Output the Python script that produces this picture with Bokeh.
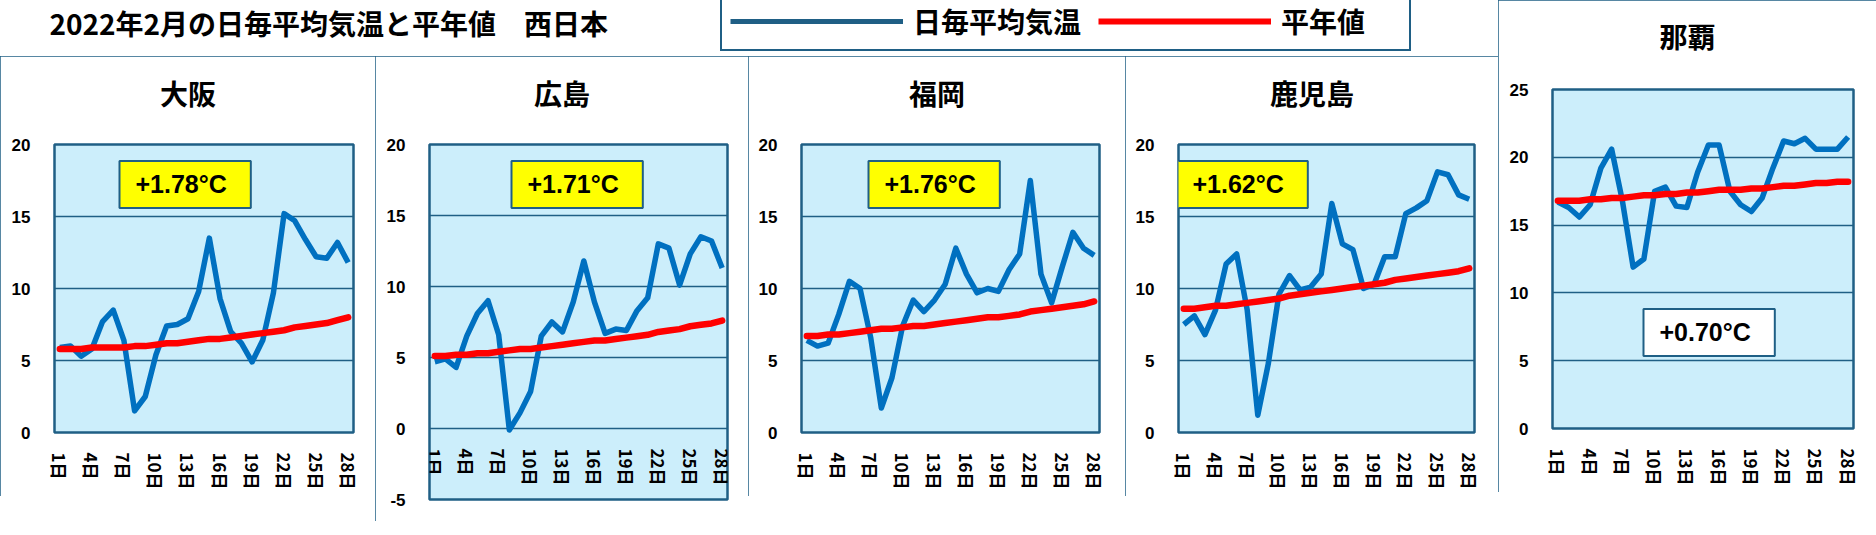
from bokeh.plotting import figure
from bokeh.layouts import row, column
from bokeh.models import FixedTicker, Label, Legend, LegendItem, Range1d, Title, ColumnDataSource
from bokeh.embed import file_html
from bokeh.resources import INLINE

# ---------------- data ----------------
days = list(range(1, 29))
tick_days = [1, 4, 7, 10, 13, 16, 19, 22, 25, 28]
tick_labels = ["1日", "4日", "7日", "10日", "13日", "16日", "19日", "22日", "25日", "28日"]

main_title = "2022年2月の日毎平均気温と平年値　西日本"
series_names = ["日毎平均気温", "平年値"]

osaka_daily = [5.9, 6.0, 5.3, 5.8, 7.7, 8.5, 6.4, 1.5, 2.5, 5.4, 7.4, 7.5, 7.9, 9.8,
               13.5, 9.3, 7.0, 6.2, 4.9, 6.4, 9.7, 15.2, 14.7, 13.4, 12.2, 12.1, 13.2, 11.8]
osaka_normal = [5.8, 5.8, 5.8, 5.9, 5.9, 5.9, 5.9, 6.0, 6.0, 6.1, 6.2, 6.2, 6.3, 6.4,
                6.5, 6.5, 6.6, 6.7, 6.8, 6.9, 7.0, 7.1, 7.3, 7.4, 7.5, 7.6, 7.8, 8.0]

hiroshima_daily = [4.7, 4.9, 4.3, 6.5, 8.1, 9.0, 6.6, -0.1, 1.1, 2.6, 6.5, 7.5, 6.8, 8.9,
                   11.8, 8.9, 6.7, 7.0, 6.9, 8.3, 9.2, 13.0, 12.7, 10.1, 12.3, 13.5, 13.2, 11.3]
hiroshima_normal = [5.1, 5.1, 5.2, 5.2, 5.3, 5.3, 5.4, 5.5, 5.6, 5.6, 5.7, 5.8, 5.9, 6.0,
                    6.1, 6.2, 6.2, 6.3, 6.4, 6.5, 6.6, 6.8, 6.9, 7.0, 7.2, 7.3, 7.4, 7.6]

fukuoka_daily = [6.4, 6.0, 6.2, 8.2, 10.5, 10.0, 6.6, 1.7, 3.8, 7.4, 9.2, 8.4, 9.2, 10.3,
                 12.8, 11.0, 9.7, 10.0, 9.8, 11.3, 12.4, 17.5, 11.0, 9.0, 11.5, 13.9, 12.8, 12.3]
fukuoka_normal = [6.7, 6.7, 6.8, 6.8, 6.9, 7.0, 7.1, 7.2, 7.2, 7.3, 7.4, 7.4, 7.5, 7.6,
                  7.7, 7.8, 7.9, 8.0, 8.0, 8.1, 8.2, 8.4, 8.5, 8.6, 8.7, 8.8, 8.9, 9.1]

kagoshima_daily = [7.5, 8.1, 6.8, 8.5, 11.7, 12.4, 8.5, 1.2, 4.8, 9.6, 10.9, 9.9, 10.1, 11.0,
                   15.9, 13.1, 12.7, 10.0, 10.3, 12.2, 12.2, 15.2, 15.6, 16.1, 18.1, 17.9, 16.5, 16.2]
kagoshima_normal = [8.6, 8.6, 8.7, 8.8, 8.8, 8.9, 9.0, 9.1, 9.2, 9.3, 9.5, 9.6, 9.7, 9.8,
                    9.9, 10.0, 10.1, 10.2, 10.3, 10.4, 10.6, 10.7, 10.8, 10.9, 11.0, 11.1, 11.2, 11.4]

naha_daily = [16.7, 16.3, 15.6, 16.5, 19.2, 20.6, 16.8, 11.9, 12.5, 17.5, 17.8, 16.4, 16.3, 18.9,
              20.9, 20.9, 17.5, 16.5, 16.0, 17.0, 19.2, 21.2, 21.0, 21.4, 20.6, 20.6, 20.6, 21.5]
naha_normal = [16.8, 16.8, 16.8, 16.9, 16.9, 17.0, 17.0, 17.1, 17.2, 17.2, 17.3, 17.3, 17.4, 17.4,
               17.5, 17.6, 17.6, 17.6, 17.7, 17.7, 17.8, 17.9, 17.9, 18.0, 18.1, 18.1, 18.2, 18.2]

city_names = ["大阪", "広島", "福岡", "鹿児島", "那覇"]
anomaly_texts = ["+1.78°C", "+1.71°C", "+1.76°C", "+1.62°C", "+0.70°C"]

y_ticks_std = [0, 5, 10, 15, 20]
y_labels_std = ["0", "5", "10", "15", "20"]
y_ticks_hiro = [-5, 0, 5, 10, 15, 20]
y_labels_hiro = ["-5", "0", "5", "10", "15", "20"]
y_ticks_naha = [0, 5, 10, 15, 20, 25]
y_labels_naha = ["0", "5", "10", "15", "20", "25"]

# ---------------- style ----------------
DARK = "#1F5F85"
BG = "#CCEEFB"
BLUE = "#0070C0"
RED = "#FF0000"
JP = "Noto Sans CJK JP"
LAT = "Liberation Sans"
TITLE_PX = 28


def panel(name, daily, normal, ticks, tlabels, yr, width, height, bl, br, bt, bb, title_gap,
          note, note_fill, note_x, note_y_from_top=None, note_y=None, axis_at_zero=False):
    p = figure(width=width, height=height, x_range=Range1d(0.5, 28.5), y_range=Range1d(*yr),
               output_backend="svg", toolbar_location=None, title=None,
               min_border_left=bl, min_border_right=br, min_border_top=bt, min_border_bottom=bb)
    p.frame_align = False
    p.styles = {"outline": "2px solid " + DARK, "outline-offset": "-2px"}
    p.background_fill_color = BG
    p.border_fill_color = "white"
    p.outline_line_color = DARK
    p.outline_line_width = 2.5
    p.outline_line_alpha = 1.0

    fh = height - bt - bb

    # blank spacer (innermost "above" item) keeps the panel title clear of the frame
    p.add_layout(Title(text=" ", text_font_size="1px", standoff=title_gap - 1.5), "above")
    # panel title, centred on the whole panel (not only on the frame)
    p.add_layout(Title(text=name, align="left", standoff=0,
                       offset=width / 2 - TITLE_PX * len(name) / 2 - bl,
                       text_font=JP, text_font_size=f"{TITLE_PX}px", text_font_style="bold",
                       text_color="black"), "above")

    # y axis
    ya = p.yaxis[0]
    ya.ticker = FixedTicker(ticks=ticks)
    ya.major_label_overrides = dict(zip(ticks, tlabels))
    ya.axis_line_color = None
    ya.major_tick_line_color = None
    ya.minor_tick_line_color = None
    ya.major_label_standoff = 18
    ya.major_label_text_font = LAT
    ya.major_label_text_font_size = "17px"
    ya.major_label_text_font_style = "bold"
    ya.major_label_text_color = "black"

    # x axis
    xa = p.below[0]
    xa.ticker = FixedTicker(ticks=tick_days)
    xa.major_label_overrides = dict(zip(tick_days, tick_labels))
    xa.axis_line_color = None
    xa.major_tick_line_color = None
    xa.minor_tick_line_color = None
    xa.major_label_orientation = "vertical"
    xa.major_label_standoff = 14
    xa.major_label_text_font = JP
    xa.major_label_text_font_size = "17px"
    xa.major_label_text_font_style = "bold"
    xa.major_label_text_color = "black"
    if axis_at_zero:
        xa.fixed_location = 0

    p.xgrid.grid_line_color = None
    p.ygrid.ticker = FixedTicker(ticks=ticks)
    p.ygrid.grid_line_color = DARK
    p.ygrid.grid_line_width = 1.6

    src = ColumnDataSource(dict(day=days, daily=daily, normal=normal))
    p.line("day", "daily", source=src, line_color=BLUE, line_width=5.5, line_join="round")
    p.line("day", "normal", source=src, line_color=RED, line_width=6.5, line_join="round",
           line_cap="round")

    ny = note_y if note_y is not None else fh - note_y_from_top
    p.add_layout(Label(x=note_x, y=ny, x_units="screen", y_units="screen", text=note,
                       text_font=LAT, text_font_size="25px", text_font_style="bold",
                       text_color="black", text_align="left", text_baseline="middle",
                       background_fill_color=note_fill, border_line_color=DARK,
                       border_line_width=2,
                       padding=dict(left=16, right=24, top=9, bottom=10)))
    return p


p1 = panel(city_names[0], osaka_daily, osaka_normal, y_ticks_std, y_labels_std, (0, 20),
           375, 440, 54, 22, 88, 64, 30, anomaly_texts[0], "#FFFF00", 65, note_y_from_top=40)
p2 = panel(city_names[1], hiroshima_daily, hiroshima_normal, y_ticks_hiro, y_labels_hiro, (-5, 20),
           373, 465, 54, 21, 88, 22, 30, anomaly_texts[1], "#FFFF00", 82, note_y_from_top=40,
           axis_at_zero=True)
p3 = panel(city_names[2], fukuoka_daily, fukuoka_normal, y_ticks_std, y_labels_std, (0, 20),
           377, 440, 53, 26, 88, 64, 30, anomaly_texts[2], "#FFFF00", 67, note_y_from_top=40)
p4 = panel(city_names[3], kagoshima_daily, kagoshima_normal, y_ticks_std, y_labels_std, (0, 20),
           373, 440, 53, 24, 88, 64, 30, anomaly_texts[3], "#FFFF00", -2, note_y_from_top=40)
p5 = panel(city_names[4], naha_daily, naha_normal, y_ticks_naha, y_labels_naha, (0, 25),
           378, 492, 54, 23, 89, 64, 32, anomaly_texts[4], "white", 91, note_y=96)

# ---------------- header (title + legend) ----------------
hw = 375 + 373 + 377 + 373
header = figure(width=hw, height=56, x_range=Range1d(-10, -9), y_range=Range1d(-10, -9),
                x_axis_type=None, y_axis_type=None, output_backend="svg",
                toolbar_location=None, min_border=0)
header.frame_align = False
header.outline_line_color = None
header.background_fill_color = "white"
header.border_fill_color = "white"
header.add_layout(Label(x=49, y=34, x_units="screen", y_units="screen", text=main_title,
                        text_font=JP, text_font_size="28px", text_font_style="bold",
                        text_color="black", text_align="left", text_baseline="middle"))
# legend proxies (their data lies outside the header's ranges, only the legend shows them)
r_daily = header.line(days, osaka_daily, line_color=DARK, line_width=5)
r_norm = header.line(days, osaka_normal, line_color=RED, line_width=6)
legend = Legend(items=[LegendItem(label=series_names[0], renderers=[r_daily]),
                       LegendItem(label=series_names[1], renderers=[r_norm])],
                orientation="horizontal", location=(720, 5),
                glyph_width=173, glyph_height=28, label_height=28, label_width=120,
                label_standoff=10, spacing=17, padding=8, margin=0,
                border_line_color=DARK, border_line_width=2, border_line_alpha=1.0,
                background_fill_color="white", background_fill_alpha=1.0,
                label_text_font=JP, label_text_font_size="28px",
                label_text_font_style="bold", label_text_color="black")
header.add_layout(legend)

layout = row(column(header, row(p1, p2, p3, p4)), p5)

open("out.html", "w").write(file_html(layout, INLINE))
